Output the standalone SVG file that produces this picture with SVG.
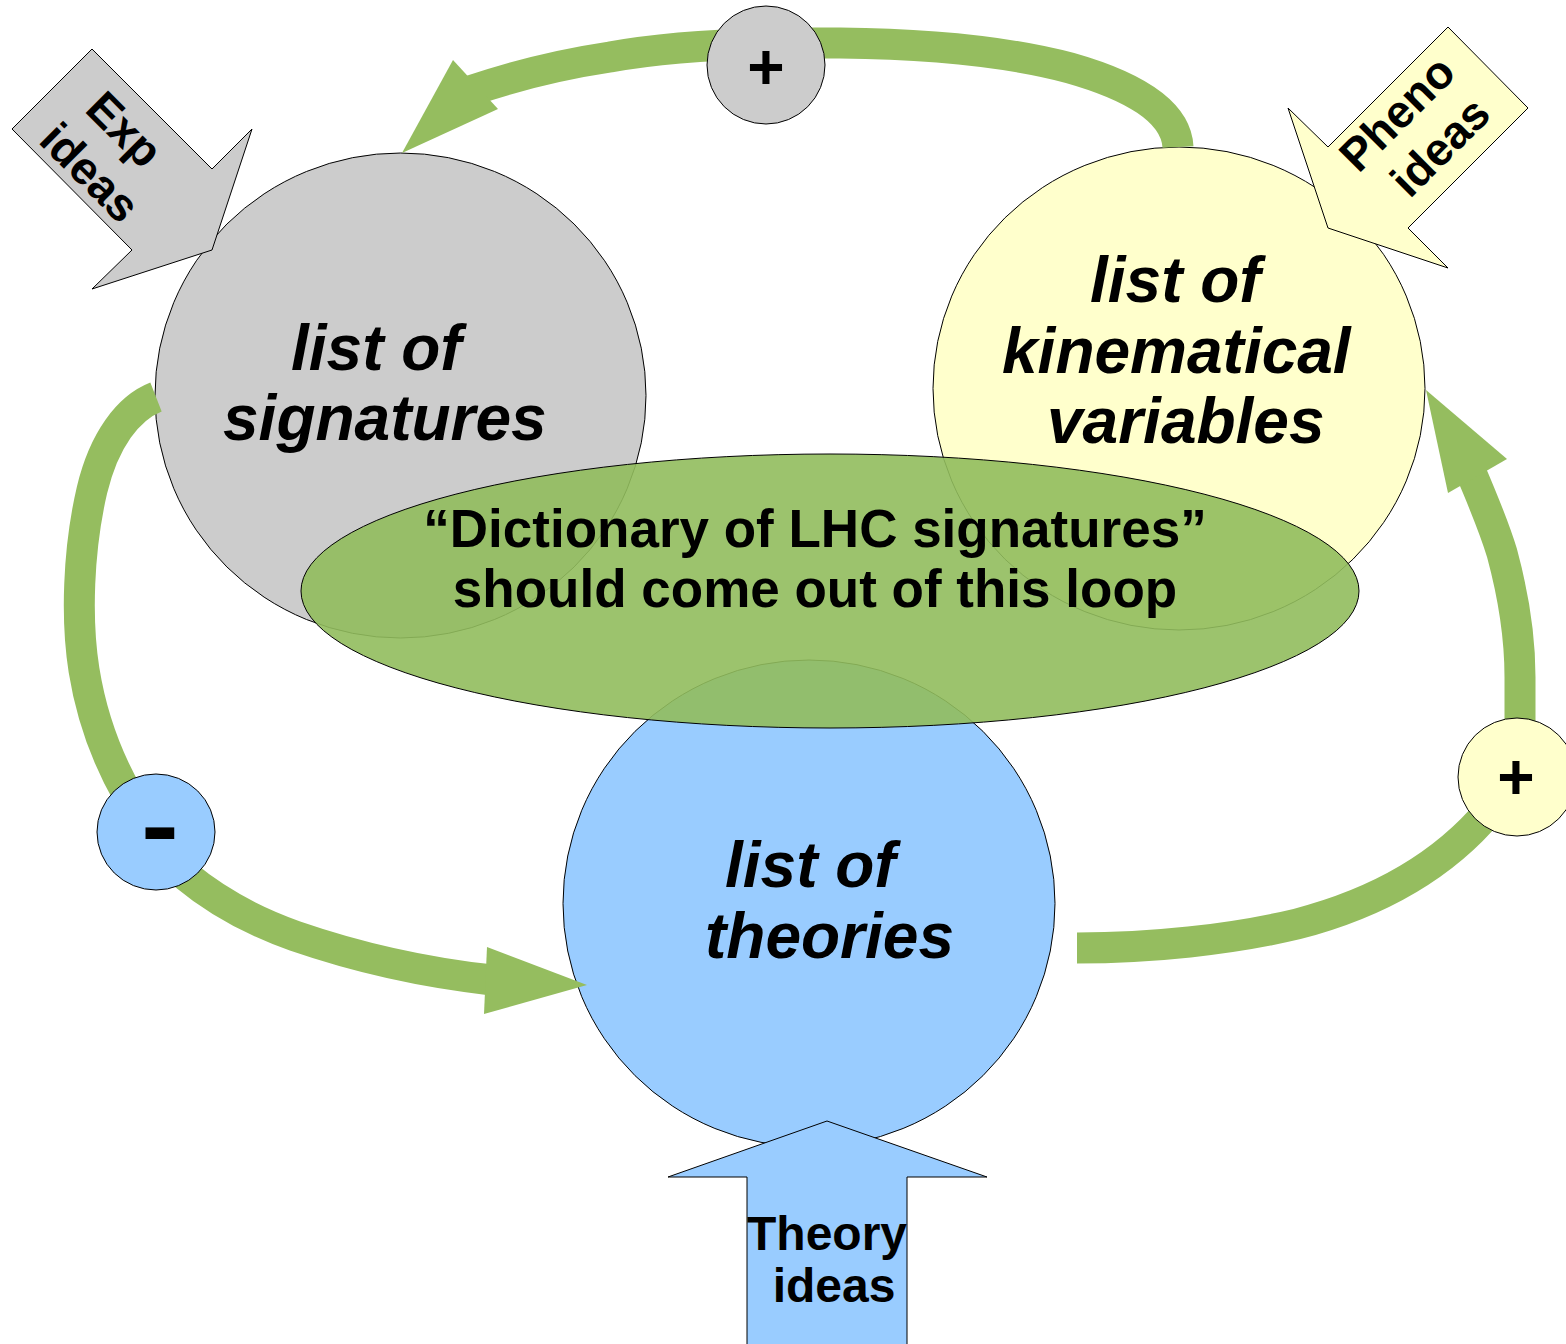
<svg xmlns="http://www.w3.org/2000/svg" width="1566" height="1344" viewBox="0 0 1566 1344">
  <style>
    .big { stroke: #000; stroke-width: 1; }
    .gray { fill: #cccccc; }
    .yellow { fill: #ffffcc; }
    .blue { fill: #99ccff; }
    .arc { fill: none; stroke: #95bd5f; stroke-width: 31; stroke-linecap: butt; }
    .head { fill: #95bd5f; stroke: none; }
    .label { font-family: "Liberation Sans", Arial, sans-serif; font-weight: bold; font-style: italic; font-size: 64px; fill: #000; }
    .plain { font-family: "Liberation Sans", Arial, sans-serif; font-weight: bold; fill: #000; }
    .input { stroke: #000; stroke-width: 1; stroke-linejoin: miter; }
  </style>

  <!-- the three main lists -->
  <g id="node-signatures">
    <ellipse class="big gray" cx="400.5" cy="395.5" rx="245.5" ry="242.5"/>
    <text class="label" x="291" y="370">list of</text>
    <text class="label" x="223" y="440">signatures</text>
  </g>
  <g id="node-kinematics">
    <ellipse class="big yellow" cx="1179" cy="388.5" rx="246" ry="241.5"/>
    <text class="label" x="1090" y="302">list of</text>
    <text class="label" x="1002" y="373">kinematical</text>
    <text class="label" x="1047" y="443">variables</text>
  </g>
  <g id="node-theories">
    <ellipse class="big blue" cx="809" cy="903.5" rx="246" ry="243.5"/>
    <text class="label" x="725" y="887">list of</text>
    <text class="label" x="705" y="958">theories</text>
  </g>

  <!-- feedback loop -->
  <g id="connectors">
    <path class="arc" d="M1178,147 C1176,110 1130,85 1070,68 C1010,52 930,44 840,43 C740,42 660,48 610,57 C570,63 520,74 470,91"/>
    <polygon class="head" points="453,60 402,153 498,109"/>
    <path class="arc" d="M156,397 C128,408 104,440 92,490 C78,550 76,620 84,670 C92,720 108,760 128,795"/>
    <path class="arc" d="M185,875 C215,900 250,920 295,936 C350,955 420,972 492,980"/>
    <polygon class="head" points="487,947 587,985 484,1014"/>
    <path class="arc" d="M1077,948 C1150,948 1230,940 1297,924 C1370,905 1440,870 1490,810"/>
    <path class="arc" d="M1520,740 L1520,677 C1520,630 1512,590 1502,553 C1495,530 1485,505 1470,470"/>
    <polygon class="head" points="1448,493 1426,390 1507,459"/>
  </g>

  <!-- loop signs -->
  <g id="sign-top">
    <circle class="big gray" cx="766" cy="65" r="59"/>
    <text class="plain" x="766" y="89" font-size="64" text-anchor="middle">+</text>
  </g>
  <g id="sign-right">
    <circle class="big yellow" cx="1517" cy="777" r="59"/>
    <text class="plain" x="1516" y="799" font-size="64" text-anchor="middle">+</text>
  </g>
  <g id="sign-left">
    <ellipse class="big blue" cx="156" cy="832" rx="59" ry="58"/>
    <text class="plain" transform="translate(160,835) scale(1,2)" x="0" y="15.2" font-size="58" text-anchor="middle">–</text>
  </g>

  <!-- incoming ideas -->
  <g id="input-exp">
    <polygon class="input gray" points="92,49 12,129 132,250 92,289 212,250 252,129 212,169"/>
    <g transform="translate(112,149) rotate(45)">
      <text class="plain" x="-5" y="-7" font-size="46" text-anchor="middle">Exp</text>
      <text class="plain" x="1" y="48" font-size="46" text-anchor="middle">ideas</text>
    </g>
  </g>
  <g id="input-pheno">
    <polygon class="input yellow" points="1448,27 1528,108 1408,228 1448,268 1328,228 1288,108 1328,147"/>
    <g transform="translate(1428,127.5) rotate(-45)">
      <text class="plain" x="-12" y="-16" font-size="46" text-anchor="middle">Pheno</text>
      <text class="plain" x="-5" y="38" font-size="46" text-anchor="middle">ideas</text>
    </g>
  </g>
  <g id="input-theory">
    <polygon class="input blue" points="827,1121 668,1177 747,1177 747,1345 907,1345 907,1177 987,1177"/>
    <text class="plain" x="827" y="1250" font-size="48" text-anchor="middle">Theory</text>
    <text class="plain" x="834" y="1302" font-size="48" text-anchor="middle">ideas</text>
  </g>

  <!-- outcome of the loop -->
  <g id="node-dictionary">
    <ellipse cx="830" cy="591" rx="529" ry="137" fill="#91bc5d" fill-opacity="0.9" stroke="#000" stroke-width="1"/>
    <text class="plain" x="815" y="547" font-size="53" text-anchor="middle" fill="#12120a">“Dictionary of LHC signatures”</text>
    <text class="plain" x="815" y="607" font-size="53" text-anchor="middle" fill="#12120a">should come out of this loop</text>
  </g>
</svg>
